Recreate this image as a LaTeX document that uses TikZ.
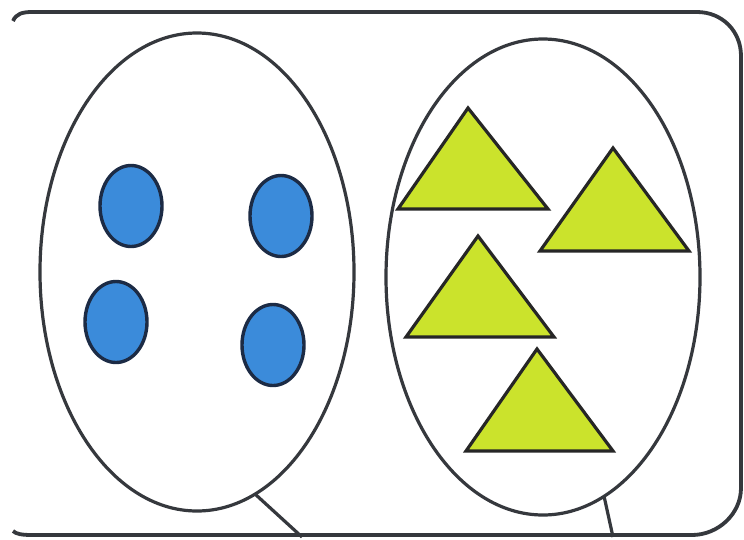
\documentclass[tikz,border=0pt]{standalone}
\usetikzlibrary{shapes.geometric}
\definecolor{dotblue}{HTML}{3B8BDA}
\definecolor{dotedge}{HTML}{1C2B45}
\definecolor{trifill}{HTML}{CBE32C}
\definecolor{lineg}{HTML}{35383D}
\tikzset{
  setell/.style={ellipse, draw=lineg, line width=3.2pt, fill=white, inner sep=0pt,
    minimum width=314pt, minimum height=478pt},
  dot/.style={ellipse, draw=dotedge, line width=3.4pt, fill=dotblue, inner sep=0pt,
    minimum width=62pt, minimum height=81pt},
  tri/.style={draw=black!85, line width=3.2pt, fill=trifill, line join=miter},
  frame/.style={draw=lineg, line width=3.8pt},
  tail/.style={draw=lineg, line width=3.2pt}
}
\begin{document}
\begin{tikzpicture}[x=1pt,y=-1pt]
\useasboundingbox (0,0) rectangle (744,539);
\fill[white] (0,0) rectangle (744,539);
% outer frame
\draw[frame] (13,21) .. controls (16,14) and (22,12) .. (32,12) -- (697,12)
  .. controls (722,12) and (741,31) .. (741,56) -- (741,488)
  .. controls (741,514) and (718,535) .. (692,535) -- (32,535)
  .. controls (22,535) and (16,534) .. (13,531);
% tails
\coordinate (lt1) at (255,494);
\coordinate (lt2) at (302,537);
\coordinate (rt1) at (604,496);
\coordinate (rt2) at (613,537);
\draw[tail] (lt1) -- (lt2);
\draw[tail] (rt1) -- (rt2);
% sets
\node[setell] (L) at (197,272) {};
\node[setell, minimum height=476pt] (R) at (543,277) {};
% dots
\node[dot] (d1) at (131,206) {};
\node[dot] (d2) at (281,216) {};
\node[dot] (d3) at (116,322) {};
\node[dot] (d4) at (273,345) {};
% triangles
\draw[tri] (468,108) -- (548,209) -- (398,209) -- cycle;
\draw[tri] (613,148) -- (689,251) -- (540,251) -- cycle;
\draw[tri] (478,236) -- (554,337) -- (406,337) -- cycle;
\draw[tri] (537,349) -- (613,451) -- (466,451) -- cycle;
\end{tikzpicture}
\end{document}
